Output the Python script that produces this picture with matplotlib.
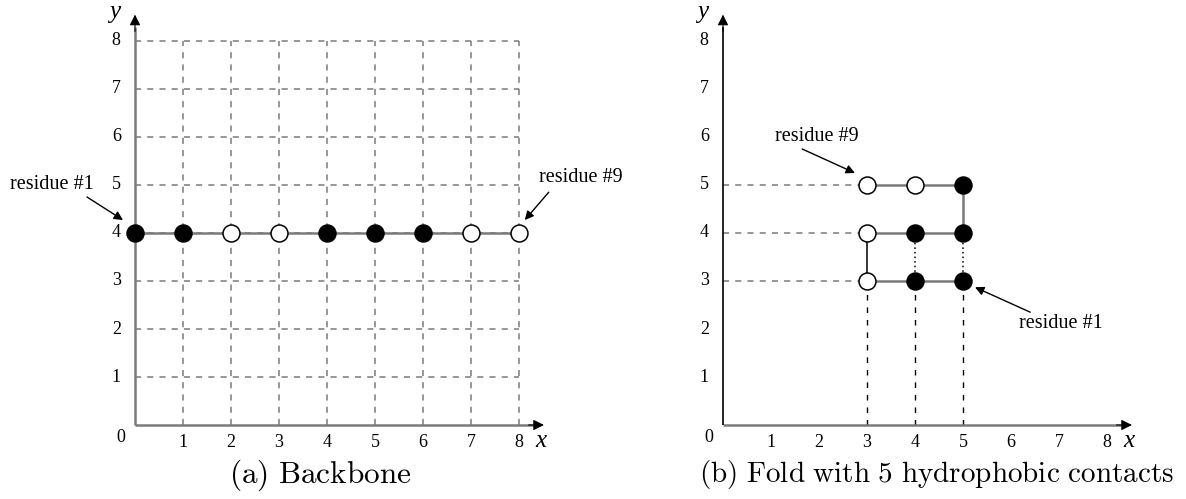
import matplotlib
matplotlib.use("Agg")
import matplotlib.pyplot as plt

# ---------------- data ----------------
sequence = ['H', 'H', 'P', 'P', 'H', 'H', 'H', 'P', 'P']   # H = filled, P = open
backbone_x = [0, 1, 2, 3, 4, 5, 6, 7, 8]
backbone_y = [4, 4, 4, 4, 4, 4, 4, 4, 4]
fold_x = [5, 4, 3, 3, 4, 5, 5, 4, 3]
fold_y = [3, 3, 3, 4, 4, 4, 5, 5, 5]
contact_x = [4, 5]          # dotted contacts between y=3 and y=4
contact_y0 = [3, 3]
contact_y1 = [4, 4]
tick_values = [1, 2, 3, 4, 5, 6, 7, 8]
grid_max = 8
captions = ['(a) Backbone', '(b) Fold with 5 hydrophobic contacts']

W, H = 1186, 499
UNIT = 48.0
GRAY = '#7a7a7a'
SERIF = ['Liberation Serif', 'DejaVu Serif']
plt.rcParams['mathtext.fontset'] = 'cm'

fig = plt.figure(figsize=(W / 100, H / 100), dpi=100)


def make_axes(x0_px, y0_px, left_px, right_px):
    ax = fig.add_axes([left_px / W, 0, (right_px - left_px) / W, 1])
    ax.set_xlim((left_px - x0_px) / UNIT, (right_px - x0_px) / UNIT)
    ax.set_ylim((y0_px - H) / UNIT, y0_px / UNIT)
    ax.axis('off')
    return ax


def axes_frame(ax, ycolor, ylw):
    ax.plot([0, 8.3], [0, 0], color=GRAY, lw=1.8, zorder=3, solid_capstyle='butt')
    ax.annotate('', xy=(8.52, 0), xytext=(8.2, 0),
                arrowprops=dict(arrowstyle='-|>', color='black', lw=0.8,
                                mutation_scale=16, shrinkA=0, shrinkB=0), zorder=3)
    ax.plot([0, 0], [0, 8.3], color=ycolor, lw=ylw, zorder=3, solid_capstyle='butt')
    ax.annotate('', xy=(0, 8.55), xytext=(0, 8.2),
                arrowprops=dict(arrowstyle='-|>', color='black', lw=0.8,
                                mutation_scale=16, shrinkA=0, shrinkB=0), zorder=3)
    for t in tick_values:
        ax.text(t, -0.36, str(t), ha='center', va='center', fontsize=13, family=SERIF)
        ax.text(-0.39, t, str(t), ha='center', va='center', fontsize=13, family=SERIF)
    ax.text(-0.29, -0.25, '0', ha='center', va='center', fontsize=13, family=SERIF)
    ax.text(8.45, -0.33, 'x', ha='center', va='center', fontsize=18, style='italic', family=SERIF)
    ax.text(-0.42, 8.6, 'y', ha='center', va='center', fontsize=18, style='italic', family=SERIF)


def draw_residues(ax, xs, ys):
    for x, y, s in zip(xs, ys, sequence):
        ax.plot([x], [y], 'o', ms=12.2, mec='black', mew=1.1,
                mfc='black' if s == 'H' else 'white', zorder=6)


def label(ax, text, txy, frm, to):
    ax.text(txy[0], txy[1], text, ha='center', va='center', fontsize=14.5, family=SERIF)
    ax.annotate('', xy=to, xytext=frm,
                arrowprops=dict(arrowstyle='-|>', color='black', lw=1.0,
                                mutation_scale=13, shrinkA=0, shrinkB=0), zorder=7)


def caption(ax, x, text, size):
    ax.text(x, -1.04, r'$\mathrm{' + text.replace(' ', r'\ ') + '}$',
            ha='center', va='center', fontsize=size)


# ---------------- (a) backbone ----------------
axa = make_axes(135, 425, 0, 593)
for v in range(1, grid_max + 1):
    axa.plot([0, grid_max], [v, v], ls=(0, (4, 4)), color=GRAY, lw=1.1, zorder=1)
    axa.plot([v, v], [0, grid_max], ls=(0, (4, 4)), color=GRAY, lw=1.1, zorder=1)
axes_frame(axa, GRAY, 1.8)
axa.plot(backbone_x, backbone_y, color=GRAY, lw=1.8, zorder=4)
draw_residues(axa, backbone_x, backbone_y)
label(axa, 'residue #1', (-1.73, 5.0), (-1.0, 4.75), (-0.25, 4.27))
label(axa, 'residue #9', (9.29, 5.15), (8.62, 4.85), (8.12, 4.27))
caption(axa, 3.85, captions[0], 22.5)

# ---------------- (b) fold ----------------
axb = make_axes(723, 425, 593, 1186)
xmin_fold = min(fold_x)
for y in sorted(set(fold_y)):
    axb.plot([0, xmin_fold], [y, y], ls=(0, (4, 4)), color=GRAY, lw=1.1, zorder=1)
for x in sorted(set(fold_x)):
    axb.plot([x, x], [0, min(fold_y)], ls=(0, (4, 5)), color='black', lw=1.0, zorder=1)
axes_frame(axb, 'black', 1.2)
for i in range(len(fold_x) - 1):
    xs = fold_x[i:i + 2]
    ys = fold_y[i:i + 2]
    if xs[0] == xs[1] and xs[0] == xmin_fold:
        axb.plot(xs, ys, color='black', lw=1.1, zorder=4)
    else:
        axb.plot(xs, ys, color=GRAY, lw=1.8, zorder=4)
for cx, y0, y1 in zip(contact_x, contact_y0, contact_y1):
    axb.plot([cx, cx], [y0, y1], ls=(0, (1, 2)), color='black', lw=1.1, zorder=3)
draw_residues(axb, fold_x, fold_y)
label(axb, 'residue #9', (1.96, 6.0), (1.65, 5.75), (2.75, 5.25))
label(axb, 'residue #1', (7.04, 2.12), (6.40, 2.35), (5.25, 2.87))
caption(axb, 4.44, captions[1], 21)

fig.savefig('out.png', dpi=100)
